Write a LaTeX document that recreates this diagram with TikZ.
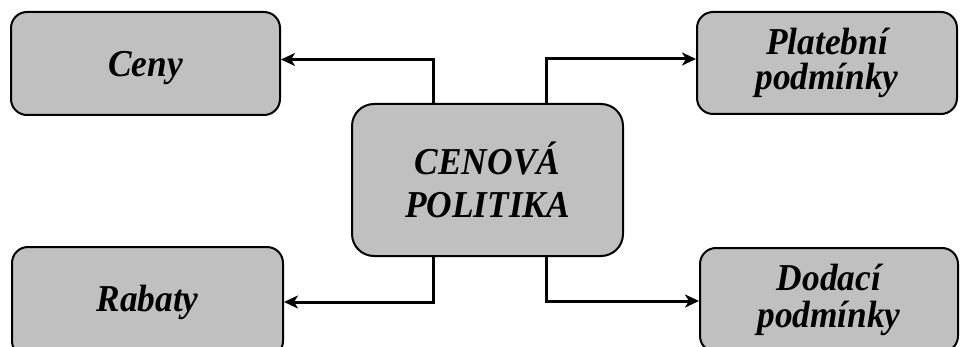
\documentclass[tikz,border=0pt]{standalone}
\usepackage{fontspec}
\setmainfont[FakeStretch=0.93]{Liberation Serif}
\usetikzlibrary{arrows.meta}
\definecolor{boxgray}{RGB}{192,192,192}
\tikzset{
  box/.style={draw=black, line width=2pt, fill=boxgray, rounded corners=16pt,
    align=center, inner sep=0pt,
    font=\fontsize{38}{35}\selectfont\bfseries\itshape},
  bigbox/.style={box, rounded corners=22pt,
    font=\fontsize{38}{43}\selectfont\bfseries\itshape},
  arr/.style={line width=3pt, -{Stealth[length=14pt,width=13pt,inset=4pt]}}
}
\begin{document}
\begin{tikzpicture}[x=1pt,y=-1pt]
  \clip (0,0) rectangle (960,347);
  \fill[white] (0,0) rectangle (960,347);
  % central topic
  \node[bigbox, minimum width=271pt, minimum height=152pt] (cen) at (487.5,180) {CENOVÁ\\POLITIKA};
  % four branches
  \node[box, text depth=0pt, minimum width=269pt, minimum height=103pt] (ceny) at (145.5,63.5) {Ceny};
  \node[box, minimum width=260pt, minimum height=102pt] (plat) at (827,63) {Platební\\podmínky};
  \node[box, minimum width=271pt, minimum height=110pt] (rab) at (147.5,302) {Rabaty};
  \node[box, font=\fontsize{38}{37}\selectfont\bfseries\itshape,
        minimum width=258pt, minimum height=104pt] (dod) at (829,300) {Dodací\\podmínky};
  % elbow connectors
  \draw[arr] ([xshift=-54.5pt]cen.north) |- ([yshift=4pt]ceny.east);
  \draw[arr] ([xshift=58.5pt]cen.north) |- ([yshift=4pt]plat.west);
  \draw[arr] ([xshift=-54.5pt]cen.south) |- (rab.east);
  \draw[arr] ([xshift=58.5pt]cen.south) |- ([yshift=-1pt]dod.west);
\end{tikzpicture}
\end{document}
